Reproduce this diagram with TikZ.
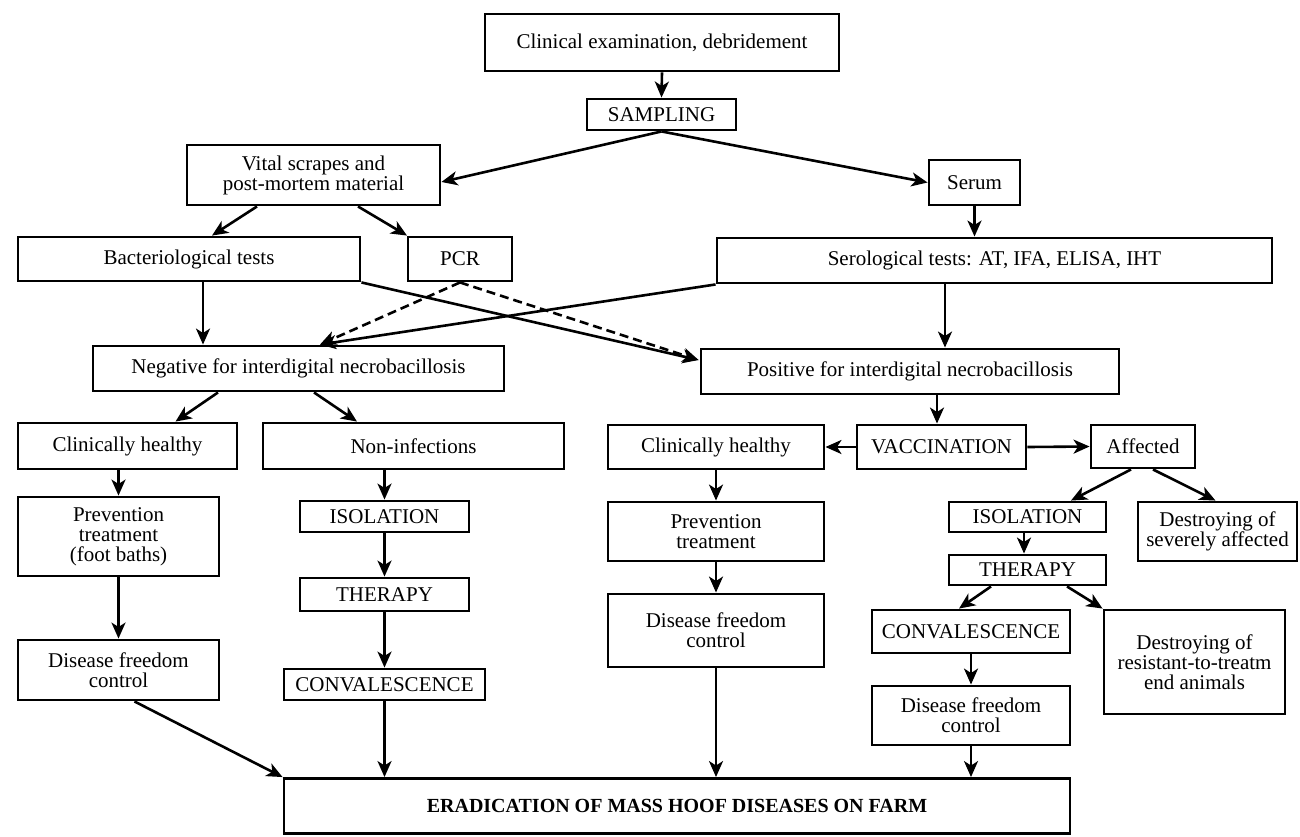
\documentclass[tikz,border=0pt]{standalone}
\usepackage{fontspec}
\setmainfont{Liberation Serif}
\usetikzlibrary{arrows.meta,calc}
\begin{document}
\begin{tikzpicture}[x=1pt,y=-1pt,
  box/.style={draw, line width=2.9pt, inner sep=0pt, align=center, font=\fontsize{21}{20}\selectfont},
  arr/.style={line width=2.6pt, -{Stealth[length=16pt,width=14pt,inset=4.5pt]}},
  dsh/.style={arr, dash pattern=on 9pt off 5pt}]
\useasboundingbox (0,0) rectangle (1300,836);
\newcommand\bx[6]{\node[box, minimum width={(#4)-(#2)}, minimum height={(#5)-(#3)}] (#1) at ({((#2)+(#4))/2},{((#3)+(#5))/2}) {#6};}
\bx{clin}{485}{14}{839}{71}{Clinical examination, debridement}
\bx{samp}{587}{99}{736}{130}{SAMPLING}
\bx{vital}{187}{145}{440}{205}{Vital scrapes and\\post-mortem material}
\bx{serum}{929}{160}{1020}{205}{Serum}
\bx{bact}{18}{237}{360}{281}{Bacteriological tests}
\bx{pcr}{408}{237}{512}{281}{PCR}
\bx{sero}{717}{238}{1272}{283}{Serological tests: AT, IFA, ELISA, IHT}
\bx{neg}{93}{346}{504}{391}{Negative for interdigital necrobacillosis}
\bx{pos}{701}{349}{1119}{394}{Positive for interdigital necrobacillosis}
\bx{chL}{18}{423}{237}{469}{Clinically healthy}
\bx{noninf}{263}{423}{564}{469}{Non-infections}
\bx{prevL}{18}{497}{219}{576}{Prevention\\treatment\\(foot baths)}
\bx{disL}{18}{640}{219}{700}{Disease freedom\\control}
\bx{isoM}{300}{501}{469}{532}{ISOLATION}
\bx{therM}{300}{578}{469}{611}{THERAPY}
\bx{convM}{284}{669}{485}{700}{CONVALESCENCE}
\bx{chR}{608}{425}{824}{469}{Clinically healthy}
\bx{vacc}{857}{425}{1026}{469}{VACCINATION}
\bx{aff}{1091}{425}{1195}{468}{Affected}
\bx{prevR}{608}{502}{824}{561}{Prevention\\treatment}
\bx{disR}{608}{594}{824}{667}{Disease freedom\\control}
\bx{isoR}{949}{502}{1106}{532}{ISOLATION}
\bx{therR}{949}{555}{1106}{585}{THERAPY}
\bx{destS}{1138}{502}{1297}{561}{Destroying of\\severely affected}
\bx{convR}{872}{610}{1070}{653}{CONVALESCENCE}
\bx{destR}{1104}{610}{1285}{714}{Destroying of\\resistant-to-treatm\\end animals}
\bx{disRR}{872}{686}{1070}{745}{Disease freedom\\control}
\node[box, minimum width=786, minimum height=55, font=\fontsize{20}{20}\selectfont\bfseries] (erad) at (677,806) {ERADICATION OF MASS HOOF DISEASES ON FARM};

\draw[arr] (clin.south) -- (samp.north);
\draw[arr] (samp.south) -- ([yshift=-7pt]vital.east);
\draw[arr] (samp.south) -- (serum.west);
\draw[arr] (serum.south) -- (serum.south |- sero.north);
\draw[arr] ([xshift=-56.5pt]vital.south) -- ([xshift=23pt]bact.north);
\draw[arr] ([xshift=44.5pt]vital.south) -- ([xshift=-53pt]pcr.north);
\draw[arr] ([xshift=14pt]bact.south) -- ([xshift=-95.5pt]neg.north);
\draw[arr] (bact.south east) -- ([yshift=11.5pt,xshift=-1pt]pos.west);
\draw[dsh] (pcr.south) -- ([xshift=21.5pt]neg.north);
\draw[dsh] (pcr.south) -- ([yshift=11.5pt,xshift=-1pt]pos.west);
\draw[arr] (sero.south west) -- ([xshift=21.5pt]neg.north);
\draw[arr] ([xshift=-49.5pt]sero.south) -- ([xshift=35pt]pos.north);
\draw[arr] ([xshift=-80.5pt]neg.south) -- ([xshift=48pt]chL.north);
\draw[arr] ([xshift=15.5pt]neg.south) -- ([xshift=-56.5pt]noninf.north);
\draw[arr] ([xshift=27pt]pos.south) -- ([xshift=-4.5pt]vacc.north);
\draw[arr] (vacc.west) -- (chR.east);
\draw[arr] (vacc.east) -- (aff.west);
\draw[arr] ([xshift=-12pt]aff.south) -- ([xshift=43.5pt]isoR.north);
\draw[arr] ([xshift=10pt]aff.south) -- ([xshift=-2pt]destS.north);
\draw[arr] ([xshift=-3.5pt]isoR.south) -- ([xshift=-3.5pt]therR.north);
\draw[arr] ([xshift=-36.5pt]therR.south) -- ([xshift=-12pt]convR.north);
\draw[arr] ([xshift=39.5pt]therR.south) -- (destR.north west);
\draw[arr] (convR.south) -- (disRR.north);
\draw[arr] (disRR.south) -- (disRR.south |- erad.north);
\draw[arr] (chR.south) -- (prevR.north);
\draw[arr] (prevR.south) -- (disR.north);
\draw[arr] (disR.south) -- (disR.south |- erad.north);
\draw[arr] (prevL.north |- chL.south) -- (prevL.north);
\draw[arr] (prevL.south) -- (disL.north);
\draw[arr] ([xshift=16pt]disL.south) -- (erad.north west);
\draw[arr] (isoM.north |- noninf.south) -- (isoM.north);
\draw[arr] (isoM.south) -- (therM.north);
\draw[arr] (therM.south) -- (convM.north);
\draw[arr] (convM.south) -- (convM.south |- erad.north);
\end{tikzpicture}
\end{document}
